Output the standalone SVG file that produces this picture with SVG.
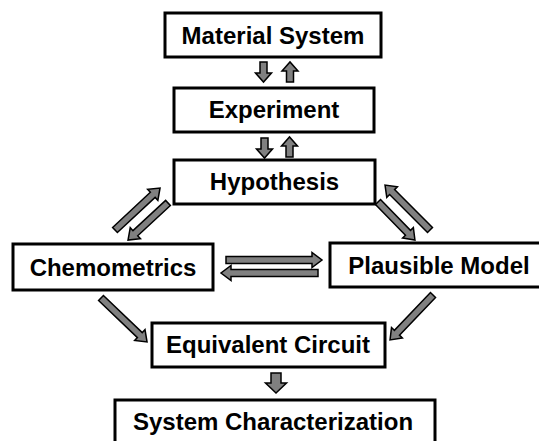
<svg xmlns="http://www.w3.org/2000/svg" width="539" height="441" viewBox="0 0 539 441">
<style>
.box{fill:#fff;stroke:#000;stroke-width:3}
.lbl{font-family:"Liberation Sans",Arial,sans-serif;font-weight:bold;font-size:24px;text-anchor:middle;fill:#000}
.arr{fill:#808080;stroke:#000;stroke-width:1.5;stroke-linejoin:miter}
</style>
<rect width="539" height="441" fill="#fff"/>
<g id="material-system"><rect class="box" x="165" y="13" width="216" height="44"/><text class="lbl" x="273" y="44">Material System</text></g>
<g id="experiment"><rect class="box" x="174" y="88" width="200" height="44"/><text class="lbl" x="274" y="118">Experiment</text></g>
<g id="hypothesis"><rect class="box" x="174" y="160" width="201" height="44"/><text class="lbl" x="274.5" y="190">Hypothesis</text></g>
<g id="chemometrics"><rect class="box" x="13" y="244" width="200" height="46"/><text class="lbl" x="113" y="276">Chemometrics</text></g>
<g id="plausible-model"><rect class="box" x="330" y="243" width="215" height="44"/><text class="lbl" x="439" y="274">Plausible Model</text></g>
<g id="equivalent-circuit"><rect class="box" x="152" y="323" width="233" height="44"/><text class="lbl" x="268" y="353">Equivalent Circuit</text></g>
<g id="system-characterization"><rect class="box" x="115" y="400" width="320" height="50"/><text class="lbl" x="273" y="430">System Characterization</text></g>
<g id="connectors">
<path class="arr" transform="translate(263.5,62) rotate(90)" d="M0,-3.5 H11 V-8 L20,0 L11,8 V3.5 H0 Z"/>
<path class="arr" transform="translate(290,82) rotate(-90)" d="M0,-3.5 H11 V-8 L20,0 L11,8 V3.5 H0 Z"/>
<path class="arr" transform="translate(264.5,138) rotate(90)" d="M0,-3.5 H11 V-8 L20,0 L11,8 V3.5 H0 Z"/>
<path class="arr" transform="translate(289.5,157) rotate(-90)" d="M0,-3.5 H11 V-8 L20,0 L11,8 V3.5 H0 Z"/>
<path class="arr" transform="translate(226,260)" d="M0,-3.5 H86 V-7.5 L96,0 L86,7.5 V3.5 H0 Z"/>
<path class="arr" transform="translate(318,273) rotate(180)" d="M0,-3.5 H87 V-7.5 L97,0 L87,7.5 V3.5 H0 Z"/>
<path class="arr" transform="translate(115,230) rotate(-43)" d="M0,-3.5 H51.6 V-7.5 L61.6,0 L51.6,7.5 V3.5 H0 Z"/>
<path class="arr" transform="translate(168,203) rotate(137.2)" d="M0,-3.5 H44.5 V-7.5 L54.5,0 L44.5,7.5 V3.5 H0 Z"/>
<path class="arr" transform="translate(378,202) rotate(45.8)" d="M0,-3.5 H43 V-7.5 L53,0 L43,7.5 V3.5 H0 Z"/>
<path class="arr" transform="translate(430,230) rotate(-135)" d="M0,-3.5 H53.6 V-7.5 L63.6,0 L53.6,7.5 V3.5 H0 Z"/>
<path class="arr" transform="translate(101,298) rotate(43.7)" d="M0,-3.5 H53.7 V-7.5 L63.7,0 L53.7,7.5 V3.5 H0 Z"/>
<path class="arr" transform="translate(433,295) rotate(133.7)" d="M0,-3.5 H52.2 V-7.5 L62.2,0 L52.2,7.5 V3.5 H0 Z"/>
<path class="arr" transform="translate(276,373) rotate(90)" d="M0,-5 H10 V-10.5 L20,0 L10,10.5 V5 H0 Z"/>
</g>
</svg>
